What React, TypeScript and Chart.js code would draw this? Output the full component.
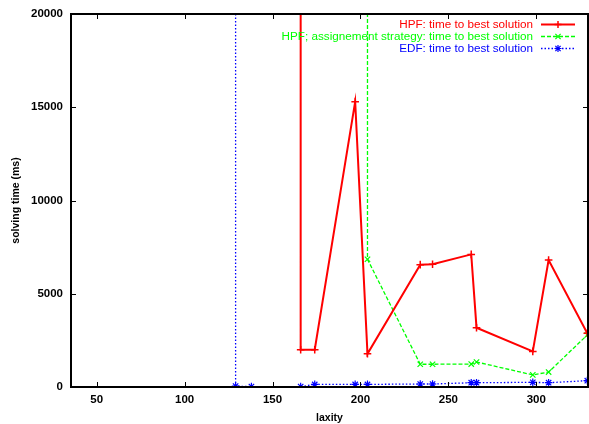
import React, { useEffect, useRef } from 'react';
import { Chart, registerables } from 'chart.js';

Chart.register(...registerables);

// ---- data ----
const seriesLabels = [
  'HPF: time to best solution',
  'HPF; assignement strategy: time to best solution',
  'EDF: time to best solution',
];
const hpfX = [166, 166, 174, 197, 204, 234, 241, 263, 266, 298, 307, 329];
const hpfY = [1000000, 2000, 2000, 15300, 1780, 6560, 6580, 7110, 3180, 1910, 6810, 2880];
const asgX = [204, 204, 234, 241, 263, 266, 298, 307, 329];
const asgY = [1000000, 6850, 1220, 1220, 1230, 1340, 650, 800, 2790];
const edfX = [129, 129, 138, 166, 174, 197, 204, 234, 241, 263, 266, 298, 307, 329];
const edfY = [1000000, 50, 20, 20, 140, 140, 140, 160, 160, 230, 230, 250, 230, 340];
const xTicks = [50, 100, 150, 200, 250, 300];
const yTicks = [0, 5000, 10000, 15000, 20000];
const xTitle = 'laxity';
const yTitle = 'solving time (ms)';

const FONT = "'Liberation Sans', Arial, Helvetica, sans-serif";
const COLORS = ['#ff0000', '#00ff00', '#0000ff'];
const DASHES: number[][] = [[], [4, 2], [1.5, 2]];
const STYLES = ['cross', 'crossRot', 'star'];
const WIDTHS = [2, 1.3, 1.3];

function drawMarker(ctx: CanvasRenderingContext2D, style: string, x: number, y: number, r: number) {
  ctx.beginPath();
  if (style === 'cross' || style === 'star') {
    ctx.moveTo(x - r, y); ctx.lineTo(x + r, y);
    ctx.moveTo(x, y - r); ctx.lineTo(x, y + r);
  }
  if (style === 'crossRot' || style === 'star') {
    const d = r * 0.75;
    ctx.moveTo(x - d, y - d); ctx.lineTo(x + d, y + d);
    ctx.moveTo(x - d, y + d); ctx.lineTo(x + d, y - d);
  }
  ctx.stroke();
}

const framePlugin = {
  id: 'gnuframe',
  afterDraw(chart: any) {
    const { ctx, chartArea } = chart;
    const { left, right, top, bottom } = chartArea;
    const xs = chart.scales.x;
    const ys = chart.scales.y;
    ctx.save();
    ctx.strokeStyle = '#000';
    ctx.lineWidth = 1;
    ctx.setLineDash([]);
    ctx.beginPath();
    xTicks.forEach((v) => {
      const px = Math.round(xs.getPixelForValue(v)) + 0.5;
      ctx.moveTo(px, bottom); ctx.lineTo(px, bottom - 5);
      ctx.moveTo(px, top); ctx.lineTo(px, top + 5);
    });
    yTicks.forEach((v) => {
      const py = Math.round(ys.getPixelForValue(v)) + 0.5;
      ctx.moveTo(left, py); ctx.lineTo(left + 5, py);
      ctx.moveTo(right, py); ctx.lineTo(right - 5, py);
    });
    ctx.stroke();
    ctx.lineWidth = 2;
    ctx.strokeRect(left, top, right - left, bottom - top);

    // key (top right, gnuplot style)
    ctx.font = `11.7px ${FONT}`;
    ctx.textAlign = 'right';
    ctx.textBaseline = 'middle';
    const textRight = 533;
    const sx0 = 541;
    const sx1 = 575;
    const rows = [24.5, 36.5, 48.5];
    seriesLabels.forEach((lab, i) => {
      const yy = rows[i];
      ctx.fillStyle = COLORS[i];
      ctx.fillText(lab, textRight, yy);
      ctx.strokeStyle = COLORS[i];
      ctx.lineWidth = WIDTHS[i];
      ctx.setLineDash(DASHES[i]);
      ctx.beginPath();
      ctx.moveTo(sx0, yy); ctx.lineTo(sx1, yy);
      ctx.stroke();
      ctx.setLineDash([]);
      ctx.lineWidth = i === 0 ? 1.5 : 1.2;
      drawMarker(ctx, STYLES[i], (sx0 + sx1) / 2, yy, 3.5);
    });
    ctx.restore();
  },
};

export default function App() {
  const ref = useRef<HTMLCanvasElement | null>(null);
  useEffect(() => {
    if (!ref.current) return;
    const mk = (xsArr: number[], ysArr: number[]) => xsArr.map((x, i) => ({ x, y: ysArr[i] }));
    const chart = new Chart(ref.current, {
      type: 'line',
      data: {
        datasets: [
          { label: seriesLabels[0], data: mk(hpfX, hpfY) },
          { label: seriesLabels[1], data: mk(asgX, asgY) },
          { label: seriesLabels[2], data: mk(edfX, edfY) },
        ].map((d, i) => ({
          ...d,
          borderColor: COLORS[i],
          backgroundColor: COLORS[i],
          borderWidth: WIDTHS[i],
          borderDash: DASHES[i],
          pointStyle: STYLES[i],
          pointRadius: 3.8,
          pointBorderColor: COLORS[i],
          pointBorderWidth: i === 0 ? 1.5 : 1.2,
          fill: false,
          tension: 0,
        })) as any,
      },
      options: {
        animation: false,
        responsive: false,
        maintainAspectRatio: false,
        devicePixelRatio: 1,
        layout: { autoPadding: false, padding: { left: 0, right: 1, top: 14, bottom: 0 } },
        plugins: { legend: { display: false }, tooltip: { enabled: false } },
        scales: {
          x: {
            type: 'linear',
            min: 35.4,
            max: 329.4,
            grid: { display: false, drawTicks: false },
            border: { display: false },
            afterBuildTicks: (s: any) => { s.ticks = xTicks.map((v) => ({ value: v })); },
            afterFit: (s: any) => { s.height = 37; s.paddingLeft = 0; s.paddingRight = 0; },
            ticks: { color: '#000', padding: 6, maxRotation: 0, autoSkip: false, callback: (v: any) => String(v), font: { family: FONT, size: 11.5, weight: 'bold' } },
            title: { display: true, text: xTitle, color: '#000', padding: { top: 0, bottom: 0 }, font: { family: FONT, size: 10.5, weight: 'bold' } },
          },
          y: {
            type: 'linear',
            min: 0,
            max: 20000,
            grid: { display: false, drawTicks: false },
            border: { display: false },
            afterBuildTicks: (s: any) => { s.ticks = yTicks.map((v) => ({ value: v })); },
            afterFit: (s: any) => { s.width = 71; s.paddingTop = 0; s.paddingBottom = 0; },
            ticks: { color: '#000', padding: 8, autoSkip: false, callback: (v: any) => String(v), font: { family: FONT, size: 11.5, weight: 'bold' } },
            title: { display: true, text: yTitle, color: '#000', padding: { top: 10, bottom: 0 }, font: { family: FONT, size: 10.5, weight: 'bold' } },
          },
        },
      } as any,
      plugins: [framePlugin],
    });
    return () => chart.destroy();
  }, []);
  return (
    <div style={{ position: 'absolute', left: 0, top: 0, width: 589, height: 424, background: '#fff' }}>
      <canvas ref={ref} width={589} height={424} style={{ display: 'block' }} />
    </div>
  );
}
